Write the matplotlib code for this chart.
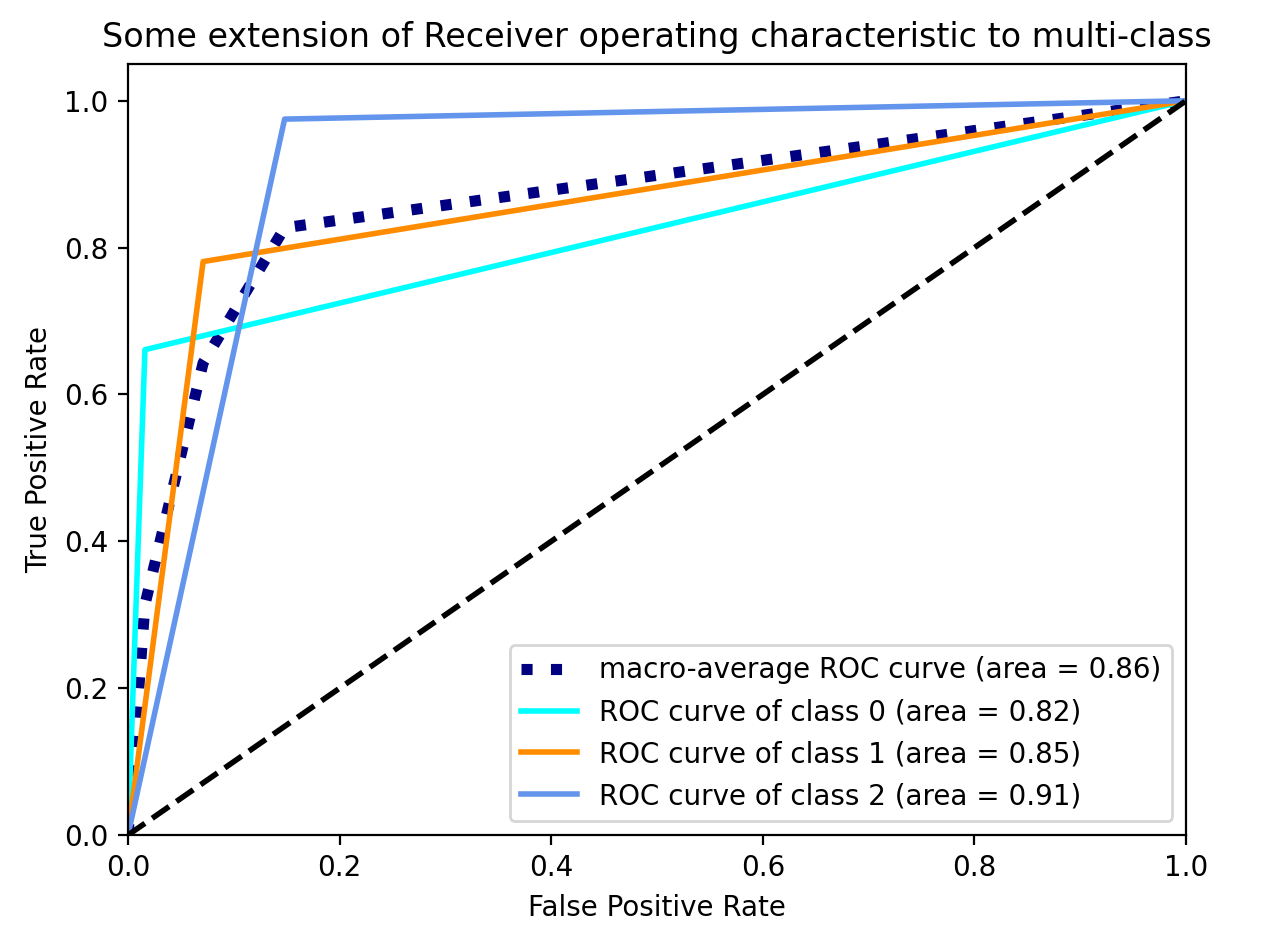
import matplotlib
matplotlib.use("Agg")
import matplotlib.pyplot as plt

# Data
macro_fpr = [0.0, 0.016, 0.071, 0.148, 1.0]
macro_tpr = [0.0, 0.314, 0.643, 0.827, 1.0]
macro_auc = 0.86

class_fpr = [
    [0.0, 0.016, 1.0],
    [0.0, 0.071, 1.0],
    [0.0, 0.148, 1.0],
]
class_tpr = [
    [0.0, 0.661, 1.0],
    [0.0, 0.781, 1.0],
    [0.0, 0.975, 1.0],
]
class_auc = [0.82, 0.85, 0.91]
colors = ["aqua", "darkorange", "cornflowerblue"]

fig = plt.figure(figsize=(6.35, 4.75), dpi=200)
ax = fig.add_axes([0.1008, 0.121, 0.8331, 0.8116])

ax.plot(macro_fpr, macro_tpr,
        label="macro-average ROC curve (area = {0:0.2f})".format(macro_auc),
        color="navy", linestyle=":", linewidth=4)

for i, color in enumerate(colors):
    ax.plot(class_fpr[i], class_tpr[i], color=color, lw=2,
            label="ROC curve of class {0} (area = {1:0.2f})".format(i, class_auc[i]))

ax.plot([0, 1], [0, 1], "k--", lw=2)
ax.set_xlim([0.0, 1.0])
ax.set_ylim([0.0, 1.05])
ax.set_xlabel("False Positive Rate")
ax.set_ylabel("True Positive Rate")
ax.set_title("Some extension of Receiver operating characteristic to multi-class")
ax.legend(loc="lower right")

fig.savefig("out.png", dpi=200)
